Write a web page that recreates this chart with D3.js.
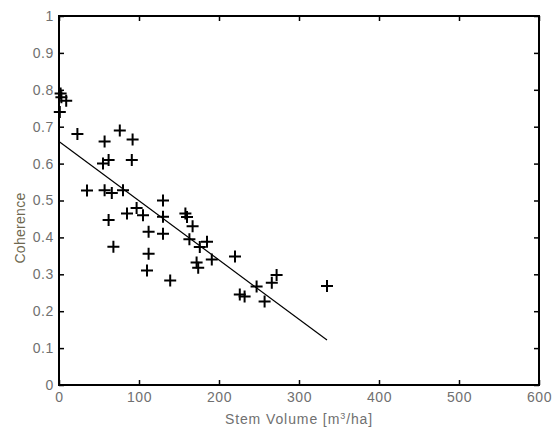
<!DOCTYPE html>
<html lang="en">
<head>
<meta charset="UTF-8">
<title>Coherence vs Stem Volume</title>
<style>
    body { margin: 0; background: #fff; }
    svg { display: block; font-family: "Liberation Sans", Arial, sans-serif; }
    .tick text { fill: #707070; font-size: 14px; letter-spacing: 0.6px; }
    .axis-label { fill: #707070; font-size: 14px; letter-spacing: 0.9px; }
</style>
</head>
<body>
<div id="chart"></div>
<script src="https://d3js.org/d3.v7.min.js"></script>
<script>
// stem volume [m3/ha] and coherence
const stemVolume = [2, 3, 9, 1, 23, 57, 76, 92, 91, 62, 55, 35, 57, 66, 80, 130, 97, 85, 105,
    62, 130, 158, 160, 167, 112, 130, 163, 68, 112, 110, 139, 172, 174, 176, 185, 191, 220,
    226, 232, 247, 257, 266, 272, 335];
const coherence = [0.79, 0.78, 0.77, 0.74, 0.68, 0.66, 0.69, 0.665, 0.61, 0.61, 0.60, 0.527,
    0.528, 0.52, 0.528, 0.50, 0.48, 0.465, 0.46, 0.447, 0.456, 0.465, 0.455, 0.43, 0.415,
    0.41, 0.395, 0.375, 0.356, 0.31, 0.283, 0.332, 0.318, 0.374, 0.388, 0.34, 0.348, 0.245,
    0.24, 0.267, 0.226, 0.277, 0.298, 0.268];
// fitted line: start and end
const fitX = [0, 335];
const fitY = [0.66, 0.122];

const xTicks = [0, 100, 200, 300, 400, 500, 600];
const yTicks = [0, 0.1, 0.2, 0.3, 0.4, 0.5, 0.6, 0.7, 0.8, 0.9, 1];

const W = 558, H = 433;
const mLeft = 59, mRight = 539, mTop = 16, mBottom = 385;

const svg = d3.select("#chart").append("svg")
    .attr("width", W)
    .attr("height", H);

const x = d3.scaleLinear().domain([0, 600]).range([mLeft, mRight]);
const y = d3.scaleLinear().domain([0, 1]).range([mBottom, mTop]);

// axes, ticks pointing inward
const fmtY = d => d === 0 || d === 1 ? String(d) : d.toFixed(1);

svg.append("g")
    .attr("transform", `translate(0,${mBottom})`)
    .call(d3.axisBottom(x).tickValues(xTicks).tickSizeInner(-5).tickSizeOuter(0).tickPadding(7));
svg.append("g")
    .attr("transform", `translate(0,${mTop})`)
    .call(d3.axisTop(x).tickValues(xTicks).tickSizeInner(-5).tickSizeOuter(0).tickFormat(""));
svg.append("g")
    .attr("transform", `translate(${mLeft},0)`)
    .call(d3.axisLeft(y).tickValues(yTicks).tickSizeInner(-5).tickSizeOuter(0).tickPadding(5).tickFormat(fmtY));
svg.append("g")
    .attr("transform", `translate(${mRight},0)`)
    .call(d3.axisRight(y).tickValues(yTicks).tickSizeInner(-5).tickSizeOuter(0).tickFormat(""));

svg.selectAll(".domain").remove();
svg.selectAll(".tick line").attr("stroke", "#000").attr("stroke-width", 1.5);

// frame
svg.append("rect")
    .attr("x", mLeft).attr("y", mTop)
    .attr("width", mRight - mLeft).attr("height", mBottom - mTop)
    .attr("fill", "none").attr("stroke", "#000").attr("stroke-width", 2);

// regression line
svg.append("line")
    .attr("x1", x(fitX[0])).attr("y1", y(fitY[0]))
    .attr("x2", x(fitX[1])).attr("y2", y(fitY[1]))
    .attr("stroke", "#000").attr("stroke-width", 1.2);

// plus markers
const pts = stemVolume.map((v, i) => ({ v, c: coherence[i] }));
const s = 6;
svg.append("g").selectAll("path")
    .data(pts)
    .enter().append("path")
    .attr("d", d => {
        const px = x(d.v), py = y(d.c);
        return `M${px - s},${py}H${px + s}M${px},${py - s}V${py + s}`;
    })
    .attr("stroke", "#000")
    .attr("stroke-width", 2)
    .attr("fill", "none");

// axis labels
svg.append("text")
    .attr("class", "axis-label")
    .attr("x", 299).attr("y", 424)
    .attr("text-anchor", "middle")
    .html('Stem Volume [m<tspan dy="-5" font-size="9">3</tspan><tspan dy="5">/ha]</tspan>');

svg.append("text")
    .attr("class", "axis-label")
    .attr("transform", "translate(25,228) rotate(-90)")
    .attr("text-anchor", "middle")
    .style("fill", "#6e6850")
    .style("letter-spacing", "0.3px")
    .text("Coherence");
</script>
</body>
</html>
